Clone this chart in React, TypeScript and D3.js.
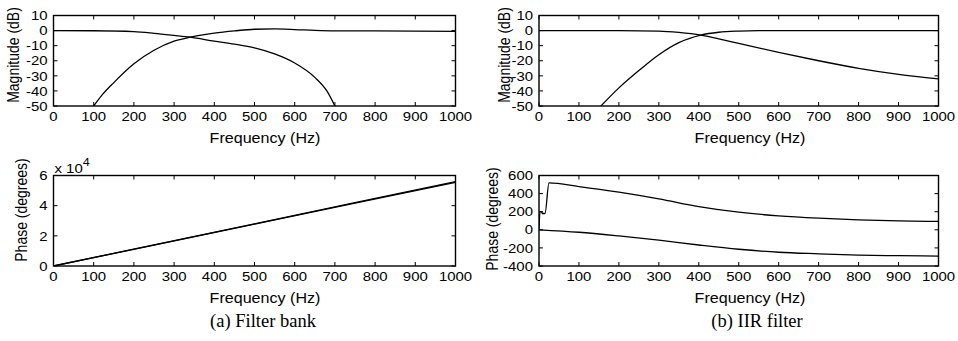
import * as d3 from 'd3';

// ---- data ----
const freqTicks = [0, 100, 200, 300, 400, 500, 600, 700, 800, 900, 1000];
const magTicks = [10, 0, -10, -20, -30, -40, -50];

// (a) filter bank, magnitude (dB)
const fbLowF = [0, 100, 200, 250, 300, 340, 400, 450, 500, 550, 600, 650, 680, 700];
const fbLowDb = [0, -0.1, -0.7, -1.8, -3.2, -4.4, -7, -9, -11.5, -15.5, -21.5, -31, -40, -50];
const fbHighF = [100, 120, 150, 200, 250, 300, 340, 400, 450, 500, 550, 600, 650, 700, 800, 900, 1000];
const fbHighDb = [-50, -43, -34.5, -22, -13, -7, -4.4, -1.7, -0.2, 0.9, 1.1, 0.7, 0.1, -0.2, -0.2, -0.3, -0.5];

// (b) IIR filter, magnitude (dB)
const iirLowF = [0, 200, 300, 350, 405, 450, 500, 600, 700, 800, 900, 1000];
const iirLowDb = [0, 0, -0.3, -1.2, -3, -5.5, -8.5, -14.5, -20, -25, -29, -32];
const iirHighF = [155, 200, 250, 300, 350, 405, 450, 500, 550, 600, 1000];
const iirHighDb = [-50, -38, -26.5, -16, -8, -3, -1.1, -0.3, 0, 0, 0];

// (a) filter bank, phase (degrees)
const fbPhaseF = [0, 250, 500, 750, 1000];
const fbPhaseA = [0, 14000, 28000, 42000, 56000];
const fbPhaseB = [0, 13900, 27800, 41700, 55500];

// (b) IIR filter, phase (degrees)
const iirPhUpF = [0, 2.5, 7, 8, 15, 25, 100, 200, 300, 400, 500, 600, 700, 800, 900, 1000];
const iirPhUpDeg = [0, 200, 200, 180, 180, 518, 478, 416, 342, 257, 195, 154, 128, 110, 98, 92];
const iirPhLoF = [0, 100, 200, 300, 400, 500, 600, 700, 800, 900, 1000];
const iirPhLoDeg = [0, -27, -68, -115, -168, -215, -248, -265, -279, -286, -290];

type Series = { f: number[]; v: number[]; smooth?: boolean };

interface PanelProps {
  id: string;
  left: number;
  right: number;
  top: number;
  bottom: number;
  yDomain: [number, number];
  yTicks: number[];
  yTickFmt?: (v: number) => string;
  yLabel: string;
  yLabelX: number;
  yLabelY: number;
  xLabelX: number;
  series: Series[];
  exponent?: string;
}

const SANS = '"Liberation Sans", Arial, Helvetica, sans-serif';
const SERIF = '"Liberation Serif", "Times New Roman", serif';
const TICK_FS = 13;
const LABEL_FS = 14;
const SX = 1.15; // the source text is a bit wider than plain Arial
const TL = 4;

// horizontally stretched text at (x, y)
function WText(props: { x: number; y: number; anchor?: string; fs: number; dy?: string; children: any }) {
  return (
    <text
      transform={`translate(${props.x},${props.y}) scale(${SX},1)`}
      dy={props.dy}
      textAnchor={props.anchor || 'start'}
      fontSize={props.fs}
      fontFamily={SANS}
    >
      {props.children}
    </text>
  );
}

function Panel(p: PanelProps) {
  const x = d3.scaleLinear().domain([0, 1000]).range([p.left, p.right]);
  const y = d3.scaleLinear().domain(p.yDomain).range([p.bottom, p.top]);
  const fmt = p.yTickFmt || ((v: number) => String(v));

  return (
    <g>
      <defs>
        <clipPath id={`clip-${p.id}`}>
          <rect x={p.left} y={p.top} width={p.right - p.left} height={p.bottom - p.top} />
        </clipPath>
      </defs>
      <g clipPath={`url(#clip-${p.id})`}>
        {p.series.map((s, i) => {
          const pts = s.f.map((f, k) => [f, s.v[k]] as [number, number]);
          const line = d3
            .line<[number, number]>()
            .x(d => x(d[0]))
            .y(d => y(d[1]))
            .curve(s.smooth === false ? d3.curveLinear : d3.curveMonotoneX);
          return <path key={i} d={line(pts) || ''} fill="none" stroke="#000" strokeWidth={1.3} />;
        })}
      </g>
      {/* ticks, inward on all four sides */}
      {freqTicks.map(t => (
        <g key={'xt' + t}>
          <line x1={x(t)} x2={x(t)} y1={p.bottom} y2={p.bottom - TL} stroke="#000" />
          <line x1={x(t)} x2={x(t)} y1={p.top} y2={p.top + TL} stroke="#000" />
          <WText x={x(t)} y={p.bottom + 15} anchor="middle" fs={TICK_FS}>
            {t}
          </WText>
        </g>
      ))}
      {p.yTicks.map(t => (
        <g key={'yt' + t}>
          <line x1={p.left} x2={p.left + TL} y1={y(t)} y2={y(t)} stroke="#000" />
          <line x1={p.right} x2={p.right - TL} y1={y(t)} y2={y(t)} stroke="#000" />
          <WText x={p.left - 6} y={y(t)} dy="0.36em" anchor="end" fs={TICK_FS}>
            {fmt(t)}
          </WText>
        </g>
      ))}
      <rect
        x={p.left}
        y={p.top}
        width={p.right - p.left}
        height={p.bottom - p.top}
        fill="none"
        stroke="#000"
        strokeWidth={1.4}
      />
      <WText x={p.xLabelX} y={p.bottom + 37} anchor="middle" fs={LABEL_FS}>
        Frequency (Hz)
      </WText>
      <text
        transform={`translate(${p.yLabelX},${p.yLabelY}) rotate(-90) scale(1,${SX})`}
        dy="0.35em"
        textAnchor="middle"
        fontSize={LABEL_FS}
        fontFamily={SANS}
      >
        {p.yLabel}
      </text>
      {p.exponent && (
        <WText x={p.left + 1} y={p.top - 3} fs={TICK_FS}>
          x 10
          <tspan dy={-7} fontSize={11}>
            {p.exponent}
          </tspan>
        </WText>
      )}
    </g>
  );
}

export default function App() {
  return (
    <div style={{ position: 'absolute', left: 0, top: 0 }}>
      <svg width={958} height={341} style={{ display: 'block', background: '#fff' }}>
        <Panel
          id="tl"
          left={53.5}
          right={455.5}
          top={15.5}
          bottom={106}
          yDomain={[-50, 10]}
          yTicks={magTicks}
          yLabel="Magnitude (dB)"
          yLabelX={13}
          yLabelY={55}
          xLabelX={265}
          series={[
            { f: fbLowF, v: fbLowDb },
            { f: fbHighF, v: fbHighDb },
          ]}
        />
        <Panel
          id="tr"
          left={539}
          right={938.5}
          top={15.5}
          bottom={106}
          yDomain={[-50, 10]}
          yTicks={magTicks}
          yLabel="Magnitude (dB)"
          yLabelX={504}
          yLabelY={55}
          xLabelX={750}
          series={[
            { f: iirLowF, v: iirLowDb },
            { f: iirHighF, v: iirHighDb },
          ]}
        />
        <Panel
          id="bl"
          left={53.5}
          right={455.5}
          top={175.5}
          bottom={266}
          yDomain={[0, 60000]}
          yTicks={[0, 20000, 40000, 60000]}
          yTickFmt={v => String(v / 10000)}
          yLabel="Phase (degrees)"
          yLabelX={21}
          yLabelY={210}
          xLabelX={265}
          exponent="4"
          series={[
            { f: fbPhaseF, v: fbPhaseA, smooth: false },
            { f: fbPhaseF, v: fbPhaseB, smooth: false },
          ]}
        />
        <Panel
          id="br"
          left={539}
          right={938.5}
          top={175.5}
          bottom={266}
          yDomain={[-400, 600]}
          yTicks={[600, 400, 200, 0, -200, -400]}
          yLabel="Phase (degrees)"
          yLabelX={492}
          yLabelY={219}
          xLabelX={750}
          series={[
            { f: iirPhUpF, v: iirPhUpDeg },
            { f: iirPhLoF, v: iirPhLoDeg },
          ]}
        />
        <text x={263} y={327} textAnchor="middle" fontSize={18.5} fontFamily={SERIF}>
          (a) Filter bank
        </text>
        <text x={757} y={327} textAnchor="middle" fontSize={18.5} fontFamily={SERIF}>
          (b) IIR filter
        </text>
      </svg>
    </div>
  );
}
